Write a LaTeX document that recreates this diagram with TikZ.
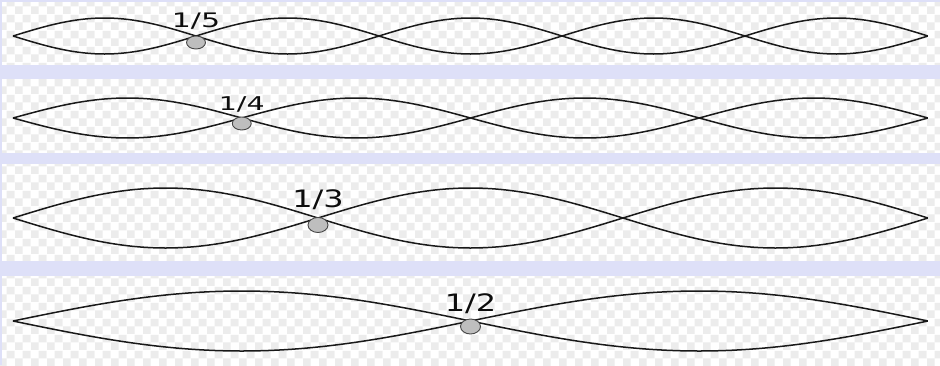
\documentclass[tikz,border=0pt]{standalone}
\usepackage{fontspec}
\newfontfamily\fracsmall[FakeStretch=1.5]{DejaVu Sans}
\newfontfamily\fracbig[FakeStretch=1.33]{DejaVu Sans}
\usetikzlibrary{shapes.geometric,patterns.meta}

\definecolor{bandblue}{RGB}{222,224,248}
\definecolor{checkgray}{RGB}{236,236,236}
\definecolor{dotgray}{RGB}{190,190,190}
\definecolor{dotedge}{RGB}{70,70,70}

\tikzdeclarepattern{
  name=checker,
  type=colored,
  bottom left={(0pt,0pt)},
  top right={(16pt,16pt)},
  tile size={(16pt,16pt)},
  code={
    \fill[white] (0pt,0pt) rectangle (16pt,16pt);
    \fill[checkgray] (0pt,0pt) rectangle (8pt,8pt);
    \fill[checkgray] (8pt,8pt) rectangle (16pt,16pt);
  }
}

\begin{document}
\begin{tikzpicture}[
  x=1pt, y=-1pt,
  wave/.style={line width=1.5pt, black!90},
  nodedot/.style={ellipse, draw=dotedge, fill=dotgray, line width=0.9pt, inner sep=0pt},
  frac/.style={text=black!95, inner sep=0pt, anchor=base},
  band/.style={fill=bandblue},
]

\def\xa{13}
\def\len{915}

\useasboundingbox (0,0) rectangle (940,365);

% --- background ---
\fill[pattern=checker] (0,0) rectangle (940,365);
\fill[band] (0,0) rectangle (940,1.5);
\fill[band] (0,0) rectangle (1.5,365);
\fill[band] (0,65) rectangle (940,79);
\fill[band] (0,153) rectangle (940,164);
\fill[band] (0,261) rectangle (940,276);

% --- fifth ---
\draw[wave] plot[domain=0:1, samples=181] ({\xa+\len*\x}, {36-18*sin(900*\x)});
\draw[wave] plot[domain=0:1, samples=181] ({\xa+\len*\x}, {36+18*sin(900*\x)});
\node[nodedot, minimum width=19pt, minimum height=13pt] (dot5) at (196,42.5) {};
\node[frac, font=\fracsmall\fontsize{20}{24}\selectfont] (frac5) at (196,27) {1/5};

% --- fourth ---
\draw[wave] plot[domain=0:1, samples=181] ({\xa+\len*\x}, {118-20*sin(720*\x)});
\draw[wave] plot[domain=0:1, samples=181] ({\xa+\len*\x}, {118+20*sin(720*\x)});
\node[nodedot, minimum width=19pt, minimum height=13pt] (dot4) at (241.75,123.5) {};
\node[frac, font=\fracsmall\fontsize{19}{23}\selectfont] (frac4) at (241.75,110) {1/4};

% --- third ---
\draw[wave] plot[domain=0:1, samples=181] ({\xa+\len*\x}, {218-30*sin(540*\x)});
\draw[wave] plot[domain=0:1, samples=181] ({\xa+\len*\x}, {218+30*sin(540*\x)});
\node[nodedot, minimum width=20pt, minimum height=15pt] (dot3) at (318,225) {};
\node[frac, font=\fracbig\fontsize{24}{28}\selectfont] (frac3) at (318,207) {1/3};

% --- half ---
\draw[wave] plot[domain=0:1, samples=181] ({\xa+\len*\x}, {321-30*sin(360*\x)});
\draw[wave] plot[domain=0:1, samples=181] ({\xa+\len*\x}, {321+30*sin(360*\x)});
\node[nodedot, minimum width=20pt, minimum height=15pt] (dot2) at (470.5,326.5) {};
\node[frac, font=\fracbig\fontsize{24}{28}\selectfont] (frac2) at (470.5,311) {1/2};

\end{tikzpicture}
\end{document}
